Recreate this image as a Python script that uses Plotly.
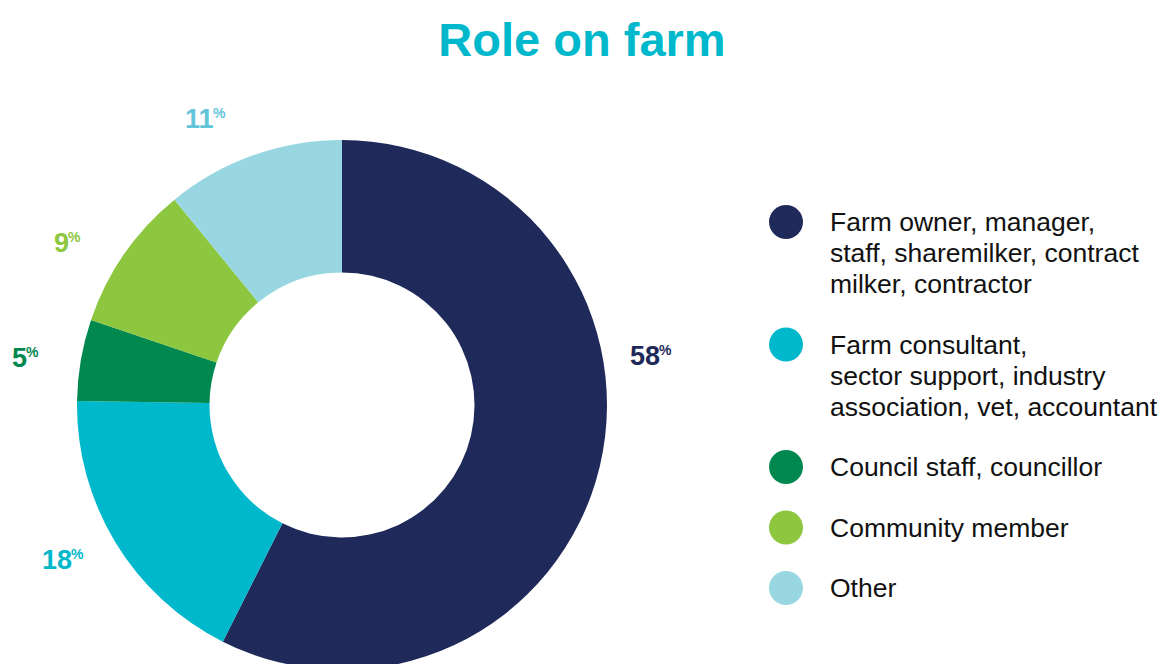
import plotly.graph_objects as go

# ---- data -------------------------------------------------------------
categories = [
    "Farm owner, manager, staff, sharemilker, contract milker, contractor",
    "Farm consultant, sector support, industry association, vet, accountant",
    "Council staff, councillor",
    "Community member",
    "Other",
]
values = [58, 18, 5, 9, 11]
legend_lines = [
    ["Farm owner, manager,", "staff, sharemilker, contract", "milker, contractor"],
    ["Farm consultant,", "sector support, industry", "association, vet, accountant"],
    ["Council staff, councillor"],
    ["Community member"],
    ["Other"],
]

# ---- styling ----------------------------------------------------------
slice_colors = ["#1F2A5A", "#00B8CC", "#00884F", "#8DC63F", "#98D7E2"]
label_colors = ["#1F2A5A", "#00B8CC", "#00884F", "#8DC63F", "#62C5DA"]
FONT = "Liberation Sans, Arial, sans-serif"

W, H = 1164, 680          # canvas (a little taller than the view; the ring runs off the bottom)
CX, CY, R = 342, 405, 265  # ring centre and outer radius, in pixels from top-left
HOLE = 0.5

# label anchors (pixels, centre of each "NN%" text)
label_xy = [(651, 356), (63, 560), (25, 358), (67, 243), (205, 119)]
NUM_SIZE, PCT_SIZE = 27, 14
DIGIT_W, PCT_W = 0.556, 0.889   # glyph advance widths in em
PCT_GAP = -3                    # pull the "%" in against the digits

# legend layout (pixels)
LEG_DOT_X, LEG_TEXT_X, LEG_DOT_R = 786, 829, 17
LEG_TOP, LINE_H, ITEM_GAP = 222, 31, 29.5
LEG_SIZE = 26.5


def px(x):
    return x / W


def py(y):
    return 1 - y / H


fig = go.Figure()

fig.add_trace(go.Pie(
    labels=categories,
    values=values,
    hole=HOLE,
    sort=False,
    direction="clockwise",
    rotation=0,
    marker=dict(colors=slice_colors, line=dict(width=0)),
    textinfo="none",
    hoverinfo="label+percent",
    showlegend=False,
    domain=dict(x=[px(CX - R), px(CX + R)], y=[py(CY + R), py(CY - R)]),
))

annotations = []
shapes = []

# percentage labels: bold number plus a small raised "%"
for v, c, (x, y) in zip(values, label_colors, label_xy):
    num = str(v)
    num_w = len(num) * DIGIT_W * NUM_SIZE
    total_w = num_w + PCT_W * PCT_SIZE + PCT_GAP
    split_x = x - total_w / 2 + num_w
    annotations.append(dict(
        x=px(split_x), y=py(y), xref="paper", yref="paper",
        xanchor="right", yanchor="middle", showarrow=False, borderpad=0,
        text=f"<b>{num}</b>",
        font=dict(family=FONT, size=NUM_SIZE, color=c),
    ))
    annotations.append(dict(
        x=px(split_x + PCT_GAP), y=py(y - 6), xref="paper", yref="paper",
        xanchor="left", yanchor="middle", showarrow=False, borderpad=0,
        text="<b>%</b>",
        font=dict(family=FONT, size=PCT_SIZE, color=c),
    ))

# legend: coloured dots with wrapped text
y = LEG_TOP
for lines, c in zip(legend_lines, slice_colors):
    shapes.append(dict(
        type="circle", xref="paper", yref="paper",
        x0=px(LEG_DOT_X - LEG_DOT_R), x1=px(LEG_DOT_X + LEG_DOT_R),
        y0=py(y + LEG_DOT_R), y1=py(y - LEG_DOT_R),
        fillcolor=c, line=dict(width=0),
    ))
    for i, line in enumerate(lines):
        annotations.append(dict(
            x=px(LEG_TEXT_X), y=py(y + i * LINE_H), xref="paper", yref="paper",
            xanchor="left", yanchor="middle", showarrow=False, borderpad=0,
            text=line, font=dict(family=FONT, size=LEG_SIZE, color="#111111"),
        ))
    y += len(lines) * LINE_H + ITEM_GAP

fig.update_layout(
    width=W, height=H,
    margin=dict(l=0, r=0, t=0, b=0),
    paper_bgcolor="white", plot_bgcolor="white",
    title=dict(
        text="Role on farm",
        x=0.5, xanchor="center",
        y=py(40), yanchor="middle", yref="container",
        font=dict(family=FONT, size=47, color="#00B8CC", weight="bold"),
    ),
    annotations=annotations,
    shapes=shapes,
)

fig.write_html(
    "out.html",
    post_script=(
        "document.documentElement.style.overflow='hidden';"
        "document.body.style.overflow='hidden';"
        "document.body.style.margin='0';"
    ),
)
